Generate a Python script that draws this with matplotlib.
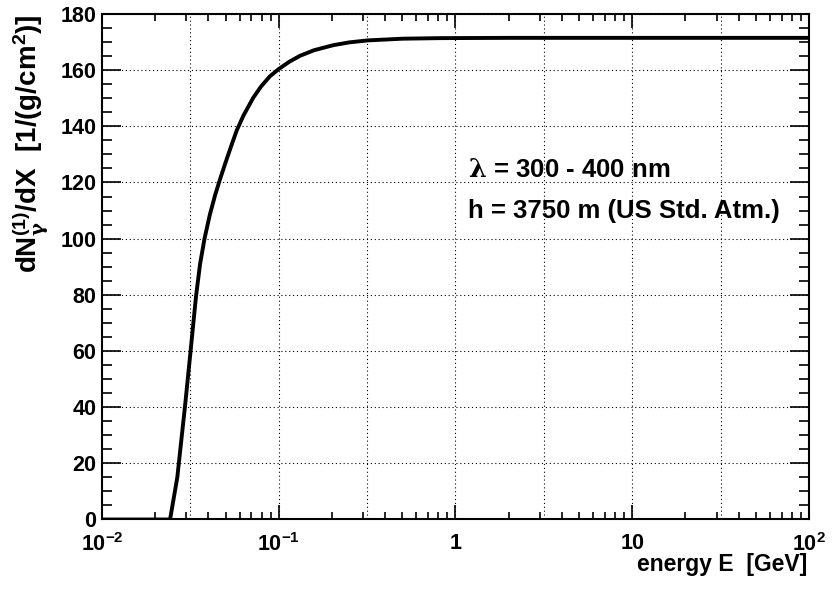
import numpy as np
import matplotlib
matplotlib.use('Agg')
import matplotlib.pyplot as plt
from matplotlib.ticker import MultipleLocator, FixedLocator, NullFormatter

plt.rcParams['font.family'] = ['Liberation Sans', 'DejaVu Sans']
plt.rcParams['font.weight'] = 'bold'
plt.rcParams['mathtext.fontset'] = 'custom'
plt.rcParams['mathtext.rm'] = 'Liberation Sans:bold'
plt.rcParams['mathtext.it'] = 'Liberation Sans:bold'
plt.rcParams['mathtext.bf'] = 'Liberation Sans:bold'
plt.rcParams['mathtext.sf'] = 'DejaVu Serif'
plt.rcParams['mathtext.default'] = 'bf'

# photon yield per unit slant depth vs electron energy
energy = [0.01, 0.02427, 0.02667, 0.02951, 0.03177, 0.03404, 0.03589, 0.03802,
          0.04074, 0.04365, 0.04656, 0.05012, 0.05370, 0.05781, 0.06310, 0.07178,
          0.07943, 0.08913, 0.1, 0.1148, 0.1318, 0.1585, 0.2037, 0.2512,
          0.3199, 0.5012, 0.8166, 1.995, 100.0]
dNdX = [0.0, 0.0, 15.0, 40.5, 60.5, 79.5, 91.0, 100.0,
        108.5, 115.5, 121.2, 127.3, 132.8, 138.5, 143.8, 150.2,
        154.2, 157.8, 160.4, 163.0, 165.1, 167.1, 168.9, 169.9,
        170.6, 171.2, 171.4, 171.5, 171.5]

x_major = [1e-2, 1e-1, 1, 10, 100]
x_labels = [r'$10^{-2}$', r'$10^{-1}$', '1', '10', r'$10^{2}$']
x_grid = [10**-1.5, 0.1, 10**-0.5, 1, 10**0.5, 10, 10**1.5]

fig = plt.figure(figsize=(8.34, 5.90), dpi=100)
ax = fig.add_axes([0.1223, 0.1195, 0.8477, 0.8568])

ax.plot(energy, dNdX, color='black', lw=2.8, solid_joinstyle='round', zorder=3)

ax.set_xscale('log')
ax.set_xlim(1e-2, 1e2)
ax.set_ylim(0, 180)

# ROOT style grid at decades and half decades
for g in x_grid:
    ax.axvline(g, color='black', lw=0.8, ls=(0, (1, 2.5)), zorder=1)
ax.yaxis.set_major_locator(MultipleLocator(20))
ax.yaxis.set_minor_locator(MultipleLocator(5))
ax.yaxis.grid(True, which='major', color='black', lw=0.8, ls=(0, (1, 2.5)), zorder=1)

ax.xaxis.set_major_locator(FixedLocator(x_major))
ax.set_xticklabels(x_labels)
minor = [m * 10.0**k for k in range(-2, 2) for m in range(2, 10)]
ax.xaxis.set_minor_locator(FixedLocator(minor))
ax.xaxis.set_minor_formatter(NullFormatter())

ax.tick_params(axis='x', which='major', direction='in', length=10, width=1.2,
               top=True, bottom=True, labelsize=15.5, pad=10)
ax.tick_params(axis='x', which='minor', direction='in', length=5, width=1.2,
               top=True, bottom=True)
ax.tick_params(axis='y', which='major', direction='in', length=14, width=1.2,
               left=True, right=True, labelsize=15.5, pad=4)
ax.tick_params(axis='y', which='minor', direction='in', length=7.5, width=1.2,
               left=True, right=True)

for s in ax.spines.values():
    s.set_linewidth(1.5)

ax.text(0.518, 0.6775, r'$\mathsf{\lambda}$ = 300 - 400 nm', transform=ax.transAxes,
        fontsize=18.5, fontweight='bold', va='baseline', ha='left')
ax.text(0.518, 0.596, 'h = 3750 m (US Std. Atm.)', transform=ax.transAxes,
        fontsize=18.5, fontweight='bold', va='baseline', ha='left')

fig.text(807 / 834, 0.0322, 'energy E  [GeV]', fontsize=16.5, fontweight='bold',
         ha='right', va='baseline')
fig.text(30 / 834, 0.9763, r'$dN_{\mathsf{\gamma}}^{(1)}/dX\ \ [1/(g/cm^{2})]$', fontsize=20,
         rotation=90, ha='center', va='top')

fig.savefig('out.png', dpi=100, facecolor='white')
